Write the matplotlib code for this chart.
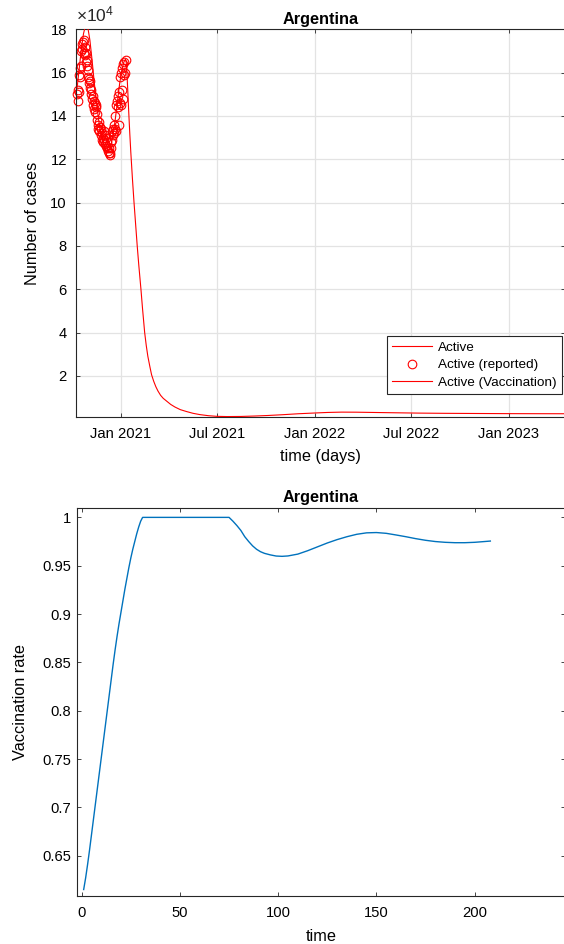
import numpy as np
import matplotlib
matplotlib.use("Agg")
import matplotlib.pyplot as plt
import matplotlib.dates as mdates
from matplotlib.ticker import FuncFormatter, FixedLocator

plt.rcParams['font.family'] = ['Liberation Sans', 'DejaVu Sans']
plt.rcParams['mathtext.fontset'] = 'custom'
plt.rcParams['mathtext.rm'] = 'Liberation Sans'
plt.rcParams['mathtext.it'] = 'Liberation Sans:italic'
plt.rcParams['mathtext.bf'] = 'Liberation Sans:bold'

# ---------------- data ----------------
country = "Argentina"

# daily reported active cases (x 1e4), from 2020-10-11
report_start = "2020-10-11"
reported = [
    15.0, 14.7, 15.2, 15.1, 15.9, 16.2, 15.8, 16.3, 17.0, 17.3,
    17.1, 17.4, 17.5, 16.9, 17.2, 16.8, 16.5, 16.9, 16.3, 16.6,
    16.1, 15.8, 15.5, 15.7, 15.3, 15.6, 15.2, 15.0, 14.8, 14.9,
    14.5, 14.7, 14.3, 14.6, 14.2, 14.4, 14.5, 14.1, 13.8, 13.6,
    13.4, 13.7, 13.3, 13.5, 13.1, 13.4, 12.9, 13.2, 13.0, 12.8,
    13.3, 12.9, 13.1, 12.7, 13.0, 12.6, 12.5, 12.8, 12.4, 12.3,
    12.5, 12.2, 12.3, 12.8, 12.5, 13.3, 12.9, 13.4, 13.1, 13.6,
    13.2, 14.0, 13.4, 14.5, 13.3, 14.7, 14.4, 14.9, 13.6, 15.1,
    14.6, 15.8, 14.5, 16.0, 15.2, 16.2, 14.8, 16.4, 15.9, 16.5,
    16.0, 16.6,
]

# fitted model over the reporting period (x 1e4)
fit_dates = [
    "2020-10-11", "2020-10-15", "2020-10-19", "2020-10-23", "2020-10-27",
    "2020-10-31", "2020-11-04", "2020-11-08", "2020-11-12", "2020-11-16",
    "2020-11-20", "2020-11-24", "2020-11-28", "2020-12-02", "2020-12-06",
    "2020-12-10", "2020-12-14", "2020-12-18", "2020-12-22", "2020-12-26",
    "2020-12-30", "2021-01-03", "2021-01-07", "2021-01-10",
]
fit_values = [
    15.3, 16.2, 17.1, 17.8, 18.2,
    18.1, 17.5, 16.6, 15.6, 14.7,
    13.9, 13.2, 12.8, 12.5, 12.35,
    12.4, 12.7, 13.2, 13.9, 14.7,
    15.5, 16.1, 16.5, 16.6,
]

# projection with vaccination (x 1e4)
vacc_dates = [
    "2021-01-10", "2021-01-11", "2021-01-12", "2021-01-13", "2021-01-14",
    "2021-01-16", "2021-01-18", "2021-01-20", "2021-01-23", "2021-01-26",
    "2021-01-29", "2021-02-01", "2021-02-04", "2021-02-08", "2021-02-11",
    "2021-02-15", "2021-02-18", "2021-02-21", "2021-02-25", "2021-02-28",
    "2021-03-04", "2021-03-08", "2021-03-12", "2021-03-17", "2021-03-22",
    "2021-03-28", "2021-04-05", "2021-04-13", "2021-04-23", "2021-05-05",
    "2021-05-17", "2021-05-30", "2021-06-15", "2021-07-01", "2021-07-20",
    "2021-08-15", "2021-09-10", "2021-10-05", "2021-11-01", "2021-12-01",
    "2022-01-01", "2022-01-25", "2022-02-20", "2022-03-20", "2022-04-20",
    "2022-06-01", "2022-07-15", "2022-09-01", "2022-11-01", "2023-01-01",
    "2023-03-01", "2023-04-30",
]
vacc_values = [
    16.6, 16.55, 16.3, 15.8, 15.3,
    14.2, 13.2, 12.3, 11.1, 10.0,
    9.0, 8.0, 7.1, 6.0, 5.1,
    4.0, 3.4, 2.9, 2.4, 2.05,
    1.75, 1.5, 1.3, 1.1, 0.96,
    0.84, 0.68, 0.56, 0.44, 0.35,
    0.27, 0.21, 0.16, 0.13, 0.12,
    0.125, 0.145, 0.17, 0.205, 0.25,
    0.285, 0.31, 0.325, 0.322, 0.31,
    0.295, 0.28, 0.27, 0.262, 0.255,
    0.252, 0.25,
]

# vaccination rate over time
rate_t = [1, 2, 3, 4, 5, 6, 7, 8, 9, 10, 11, 12, 13, 14, 15, 16, 17, 18, 19, 20,
          21, 22, 23, 24, 25, 26, 27, 28, 29, 30, 31,
          75, 77, 79, 81, 83, 85, 87, 89, 91, 93, 96, 99, 102, 105,
          110, 115, 120, 125, 130, 135, 140, 145, 150,
          155, 160, 165, 170, 175, 180, 185, 190, 195, 200, 205, 208]
rate_v = [0.615, 0.627, 0.641, 0.656, 0.672, 0.688, 0.704, 0.720, 0.736, 0.752,
          0.768, 0.784, 0.800, 0.816, 0.832, 0.848, 0.863, 0.877, 0.890, 0.902,
          0.914, 0.926, 0.937, 0.948, 0.958, 0.967, 0.975, 0.983, 0.990, 0.996,
          1.000,
          1.000, 0.996, 0.9915, 0.9865, 0.980, 0.975, 0.9705, 0.967, 0.9645,
          0.9628, 0.9612, 0.9600, 0.9597, 0.9601,
          0.9620, 0.9655, 0.9695, 0.9735, 0.9770, 0.9800, 0.9825, 0.9840, 0.9843,
          0.9835, 0.9818, 0.9800, 0.9780, 0.9763, 0.9750, 0.9742, 0.9738, 0.9738,
          0.9742, 0.9750, 0.9755]

date_ticks = ["2021-01-01", "2021-07-01", "2022-01-01", "2022-07-01", "2023-01-01"]
date_tick_labels = ["Jan 2021", "Jul 2021", "Jan 2022", "Jul 2022", "Jan 2023"]
case_ticks = [2, 4, 6, 8, 10, 12, 14, 16, 18]
rate_ticks = [0.65, 0.7, 0.75, 0.8, 0.85, 0.9, 0.95, 1.0]
time_ticks = [0, 50, 100, 150, 200]

SCALE = 1e4

# ---------------- figure ----------------
W, H = 564, 944
fig = plt.figure(figsize=(W / 100, H / 100), dpi=100)


def axes_px(left, top, right, bottom):
    return fig.add_axes([left / W, 1 - bottom / H, (right - left) / W, (bottom - top) / H])


axis_color = '#262626'
tick_fs = 10.6
label_fs = 11.7
title_fs = 11.7

ax1 = axes_px(76, 29.3, 565, 417)
ax2 = axes_px(76.5, 508, 565, 896)

# ---- top panel: active cases ----
rep_dates = np.arange(np.datetime64(report_start),
                      np.datetime64(report_start) + len(reported))
ax1.plot(np.array(fit_dates, dtype='datetime64[D]'), np.array(fit_values) * SCALE,
         color='red', lw=0.8, label='Active', zorder=3)
ax1.plot(rep_dates, np.array(reported) * SCALE, linestyle='none', marker='o',
         mfc='none', mec='red', ms=6.2, mew=0.8, label='Active (reported)',
         zorder=2, clip_on=False)
ax1.plot(np.array(vacc_dates, dtype='datetime64[D]'), np.array(vacc_values) * SCALE,
         color='red', lw=0.8, label='Active (Vaccination)', zorder=3)

ax1.set_xlim(np.datetime64('2020-10-08T21:00'), np.datetime64('2023-04-16T12:00'))
ax1.set_ylim(1000, 18 * SCALE)
ax1.xaxis.set_major_locator(FixedLocator(mdates.date2num(np.array(date_ticks, dtype='datetime64[D]'))))
ax1.set_xticklabels(date_tick_labels)
ax1.yaxis.set_major_locator(FixedLocator(np.array(case_ticks) * SCALE))
ax1.yaxis.set_major_formatter(FuncFormatter(lambda v, p: f"{v / SCALE:g}"))
ax1.grid(True, color='#e3e3e3', lw=0.9)
ax1.set_axisbelow(True)
ax1.set_title(country, fontsize=title_fs, fontweight='bold', pad=4)
ax1.set_xlabel('time (days)', fontsize=label_fs)
ax1.set_ylabel('Number of cases', fontsize=label_fs)
ax1.xaxis.set_label_coords(0.5, -0.082)
ax1.yaxis.set_label_coords(-0.073, 0.5)
ax1.text(0.0, 1.012, r'$\times10^{4}$', transform=ax1.transAxes, ha='left', va='bottom',
         fontsize=12.5, color=axis_color)
ax1.tick_params(axis='x', pad=7)
ax1.tick_params(axis='y', pad=6.5)

leg = ax1.legend(loc='lower right', bbox_to_anchor=(0.993, 0.059), borderaxespad=0,
                 fontsize=9.7, frameon=True, fancybox=False, framealpha=1,
                 edgecolor=axis_color, handlelength=3.0, handletextpad=0.38,
                 borderpad=0.4, labelspacing=0.36)
leg.get_frame().set_linewidth(0.8)

# ---- bottom panel: vaccination rate ----
ax2.plot(rate_t, rate_v, color=(0.0, 0.447, 0.741), lw=1.0)
ax2.set_xlim(-2.65, 246)
ax2.set_ylim(0.6083, 1.0097)
ax2.xaxis.set_major_locator(FixedLocator(time_ticks))
ax2.yaxis.set_major_locator(FixedLocator(rate_ticks))
ax2.yaxis.set_major_formatter(FuncFormatter(lambda v, p: f"{round(v, 2):g}"))
ax2.set_title(country, fontsize=title_fs, fontweight='bold', pad=4)
ax2.set_xlabel('time', fontsize=label_fs)
ax2.set_ylabel('Vaccination rate', fontsize=label_fs)
ax2.xaxis.set_label_coords(0.5, -0.085)
ax2.yaxis.set_label_coords(-0.100, 0.5)
ax2.tick_params(axis='x', pad=7)
ax2.tick_params(axis='y', pad=4)

for ax in (ax1, ax2):
    ax.tick_params(direction='in', top=True, right=True, length=3, width=0.6,
                   colors=axis_color, labelsize=tick_fs, labelcolor='black')
    for s in ax.spines.values():
        s.set_color(axis_color)
        s.set_linewidth(0.8)

fig.savefig('out.png', dpi=100)
